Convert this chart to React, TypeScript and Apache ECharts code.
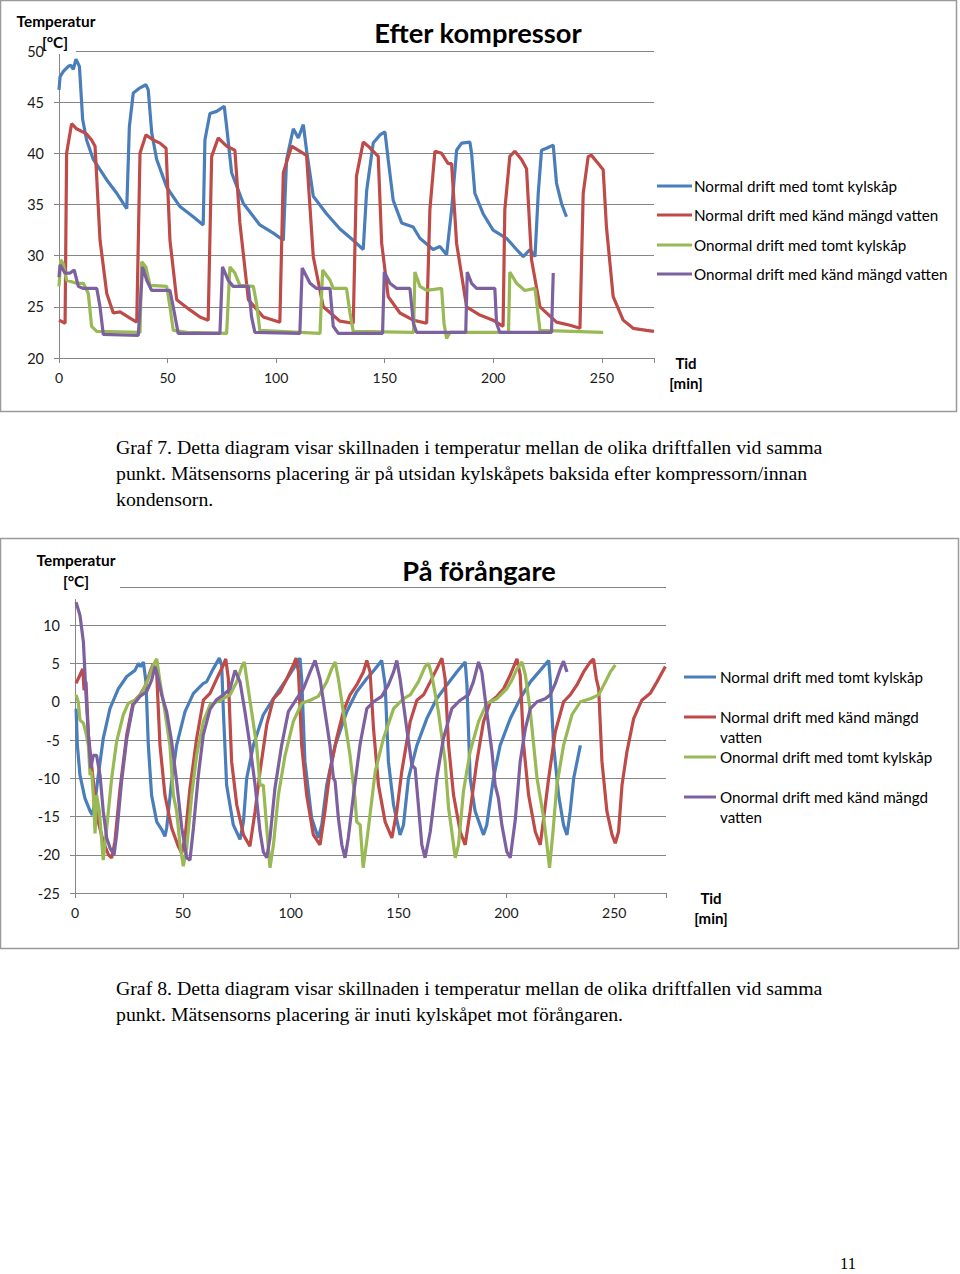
import React, { useEffect, useRef } from 'react';
import * as echarts from 'echarts';

const seriesNames = [
  'Normal drift med tomt kylskåp',
  'Normal drift med känd mängd vatten',
  'Onormal drift med tomt kylskåp',
  'Onormal drift med känd mängd vatten',
];
const legendNamesWrapped = [
  'Normal drift med tomt kylskåp',
  'Normal drift med känd mängd\nvatten',
  'Onormal drift med tomt kylskåp',
  'Onormal drift med känd mängd\nvatten',
];
const seriesColors = ['#4A7EBB', '#BE4B48', '#98B954', '#7D60A0'];

const titleKomp = 'Efter kompressor';
const titleForang = 'På förångare';
const yAxisTitle = ['Temperatur', '[°C]'];
const xAxisTitle = ['Tid', '[min]'];

// Graf 7 – Efter kompressor: [tid (min), temperatur (°C)]
const kompNormalTom = [[0,46.2],[0.5,47.5],[2,48.0],[4.3,48.5],[5.5,48.6],[6.6,48.2],[7.8,49.2],[9.4,48.5],[10.9,43.3],[12.7,41.3],[15.8,39.4],[22,37.4],[26.6,36.1],[29.6,35.1],[31.2,34.6],[32.4,42.6],[34.2,45.9],[37.3,46.4],[40,46.7],[41.1,46.2],[42.7,42.0],[45,39.4],[49.6,36.7],[55.7,34.8],[61.8,33.8],[66.4,33.0],[67.2,41.3],[69.5,43.9],[72.6,44.1],[76.1,44.6],[77.2,42.6],[79.5,38.1],[84.9,35.1],[92.5,33.0],[98.7,32.2],[103.3,31.5],[104.8,39.4],[107.9,42.4],[110.2,41.5],[112.5,42.8],[114,40.3],[117.1,35.8],[123.2,34.1],[129.4,32.6],[135.5,31.5],[140.1,30.6],[141.7,36.4],[144.7,41.0],[147.8,41.8],[150.1,42.1],[151.6,39.4],[153.9,35.4],[157.8,33.2],[163.1,32.8],[166.2,31.7],[172.3,30.6],[175.4,30.9],[178.5,30.1],[180.8,34.5],[183.1,40.3],[185.4,41.0],[189.2,41.1],[190,40.0],[191.5,36.1],[195.3,34.1],[199.9,32.5],[206.1,31.7],[210.7,30.6],[213.8,29.9],[216.9,30.6],[219.2,29.9],[220.7,36.1],[222.2,40.3],[224.5,40.5],[227.6,40.8],[229.1,37.1],[231.4,35.1],[233.7,33.8]];
const kompNormalKand = [[0,23.7],[2.8,23.4],[3.5,40.0],[5.8,42.9],[8.1,42.4],[12.7,41.9],[15,41.3],[16.6,40.7],[18.9,31.5],[22,26.3],[25,24.4],[28.1,24.5],[32.7,23.9],[35.8,23.5],[37.3,40.0],[40,41.8],[43.4,41.3],[46.5,41.0],[49.3,40.5],[51.1,31.5],[54.2,25.7],[60.3,24.7],[64.9,24.0],[68.7,23.7],[70.3,39.7],[73.3,41.5],[77.2,40.7],[81,40.3],[83.3,33.2],[87.2,25.7],[94.1,24.0],[101.7,23.5],[103.3,38.1],[107.1,40.7],[114,39.8],[117.1,29.9],[121.7,25.0],[129.4,23.6],[135.5,23.4],[137,37.8],[140.1,41.1],[142.4,40.7],[147,39.7],[148.6,31.2],[151.6,26.0],[157,24.4],[163.1,23.7],[169.3,23.4],[170.8,34.5],[173.1,40.2],[176.2,40.0],[179.2,39.0],[180.8,39.0],[183.1,31.2],[187.7,25.0],[193.8,24.2],[199.9,23.7],[204.5,23.1],[205.3,34.5],[207.6,39.7],[209.9,40.2],[213,39.4],[215.3,38.5],[217.6,29.6],[221.5,25.0],[229.1,23.5],[235.3,23.2],[239.9,22.9],[241.4,36.1],[243.7,39.7],[245.2,39.8],[248.3,39.0],[250.6,38.4],[252.1,32.8],[255.2,26.0],[259.8,23.7],[264.4,22.9],[270.6,22.7],[274,22.6]];
const kompOnormalTom = [[0,27.0],[0.8,29.6],[2,29.2],[3.5,27.6],[8.1,27.3],[11.2,27.3],[13.5,26.3],[15,23.1],[17.4,22.6],[37.3,22.5],[38.1,29.4],[40,28.9],[41.9,27.1],[49.6,27.0],[51.1,25.0],[52.6,22.7],[58.8,22.5],[77.2,22.4],[78.7,28.9],[81,28.3],[83.3,27.1],[89.5,27.0],[91,25.3],[92.5,22.7],[120.2,22.4],[121.4,28.6],[124.8,27.6],[126.3,26.8],[132.4,26.8],[134,24.4],[135.5,22.6],[163.3,22.5],[163.9,28.4],[166.2,27.0],[169.3,26.6],[176.2,26.8],[177.3,23.4],[178.5,21.9],[180,22.5],[207,22.5],[207.6,28.4],[210.7,27.3],[214.5,26.6],[219.2,26.8],[221.5,22.7],[250.6,22.5]];
const kompOnormalKand = [[0,27.9],[0.5,29.1],[2.8,28.3],[5.1,28.3],[7,28.6],[8.9,27.0],[11.2,26.8],[17.4,26.8],[18.9,25.0],[20.4,22.3],[36.5,22.2],[38.5,28.9],[40.4,27.6],[42.7,26.6],[51.1,26.6],[52.6,25.0],[54.9,22.4],[74.1,22.4],[75.3,28.9],[77.9,27.6],[80.2,27.0],[87.2,27.0],[88.7,24.0],[90.2,22.5],[110.9,22.4],[112,28.8],[115.6,27.3],[118.6,26.8],[124.8,26.8],[126.3,23.1],[128.6,22.4],[149,22.4],[149.8,28.4],[152.4,27.3],[155.5,26.8],[161.6,26.8],[163.2,23.4],[164.7,22.5],[187.3,22.5],[188,28.4],[190,27.3],[192.3,26.8],[200.7,26.8],[201.5,23.4],[203,22.5],[226.8,22.5],[227.6,28.3]];

// Graf 8 – På förångare: [tid (min), temperatur (°C)]
const forNormalTom = [[0.5,-0.9],[1.1,-5.7],[2.3,-9.6],[4.6,-12.6],[7,-14.3],[8,-14.8],[9.3,-13.0],[10.8,-9.6],[13.1,-4.8],[16.2,-0.9],[20.1,1.7],[24,3.3],[27.8,4.1],[29.4,5.0],[30.4,4.6],[31.7,5.2],[32.9,2.6],[34,-5.7],[35.5,-12.2],[37.9,-15.7],[40.2,-16.7],[41.7,-17.6],[42.5,-16.5],[44.8,-10.4],[47.1,-5.7],[51,-1.3],[54.9,1.1],[59.5,2.4],[61,2.6],[64.1,4.3],[66.9,5.7],[68,4.8],[68.8,-1.3],[70.3,-10.9],[73.4,-16.1],[76.5,-18.0],[78.1,-15.7],[79.6,-10.0],[82.7,-5.7],[87.3,-1.7],[92,0.4],[95.1,1.7],[98.2,3.0],[101.2,4.3],[104.3,5.7],[105.1,3.0],[106.6,-7.8],[109.7,-15.2],[112.8,-17.8],[114.4,-16.1],[116.7,-10.9],[120.6,-5.7],[126,-1.3],[130.6,1.3],[135.2,3.0],[138,3.9],[142.2,5.4],[143.8,2.2],[145.3,-7.8],[147.7,-13.5],[150.7,-17.4],[152.3,-16.1],[154.6,-10.0],[158.5,-5.7],[163.1,-2.2],[167.7,0.4],[172.4,2.2],[177,3.9],[180.9,5.2],[181.7,2.2],[183.2,-10.0],[185.5,-14.3],[189.4,-17.4],[190.9,-16.1],[194,-10.0],[197.1,-5.7],[201.8,-2.2],[206.4,0.4],[211.1,2.6],[215.7,4.1],[219.6,5.4],[220.3,3.0],[221.9,-5.7],[224.2,-12.2],[226.5,-16.1],[228.1,-17.4],[229.6,-14.3],[231.2,-10.0],[234.3,-5.7]];
const forNormalKand = [[0.5,2.4],[2.3,3.5],[3.6,4.3],[4.2,1.5],[5.1,2.6],[6.2,-4.3],[8.5,-10.4],[10.8,-15.7],[13.1,-18.3],[15.5,-20.0],[17,-20.4],[18.5,-18.3],[20.9,-11.3],[24,-4.3],[27,0],[30.1,0.9],[32.5,2.0],[34.8,3.9],[36.3,5.0],[37.9,3.5],[39.4,-5.7],[41.7,-12.2],[44.8,-16.5],[47.9,-18.9],[49.5,-19.8],[51,-17.8],[53.3,-11.3],[56.4,-4.8],[59.5,0.2],[62.6,1.1],[65.7,3.0],[68.8,4.8],[69.9,5.6],[71.1,3.0],[72.6,-7.8],[75,-13.5],[78.1,-17.4],[81.1,-18.9],[83.5,-14.3],[85.8,-9.1],[88.9,-3.0],[92,0.4],[95.1,1.3],[98.2,3.0],[101.2,4.8],[102.5,5.7],[103.6,3.9],[105.1,-5.7],[107.4,-12.2],[110.5,-17.4],[113.6,-18.7],[115.9,-14.3],[118.2,-9.1],[121.3,-4.8],[124.4,-1.3],[127.5,0.9],[130.6,2.2],[133.7,3.9],[135.3,5.4],[136.8,3.9],[138.4,-3.5],[140.7,-10.9],[143.8,-15.7],[146.9,-17.8],[149.2,-14.3],[151.5,-9.1],[155.4,-2.6],[158.5,0.2],[161.6,0.9],[164.7,2.6],[167.7,4.3],[170.1,5.7],[171.6,3.0],[173.2,-5.7],[175.5,-12.2],[178.6,-17.0],[180.9,-18.7],[183.2,-14.3],[186.3,-7.8],[189.4,-2.6],[192.5,0],[195.6,0.7],[198.7,1.7],[201.8,3.5],[204.9,5.6],[206.4,3.5],[208,-5.7],[210.3,-12.2],[213.4,-17.0],[215.7,-18.7],[217.3,-15.2],[219.6,-10.0],[222.7,-3.9],[226.5,0],[229.6,0.9],[232.7,2.2],[235.8,3.9],[238.9,5.2],[240.4,5.6],[241.7,3.0],[242.8,1.7],[244.3,-7.8],[246.6,-14.3],[249,-17.4],[250.5,-18.5],[252,-17.0],[253.6,-10.9],[255.9,-6.5],[259,-2.2],[262.8,0.2],[266.7,1.1],[269.8,2.6],[273.7,4.6]];
const forOnormalTom = [[0.5,0.9],[1.5,0],[2.3,-2.4],[3.9,-2.8],[5.1,-4.1],[6.2,-5.7],[7,-9.6],[7.7,-9.1],[8.5,-12.2],[9.3,-17.2],[10,-12.2],[11.3,-14.3],[12.4,-18.3],[13.1,-20.7],[14.7,-16.5],[17,-10.0],[19.3,-5.2],[22.4,-1.7],[24.7,-0.2],[27.8,0.2],[30.9,1.1],[34,3.0],[36.3,4.8],[37.9,5.6],[39.4,2.6],[41.7,-1.3],[44,-5.7],[45.6,-12.2],[47.1,-14.3],[48.7,-18.7],[50.2,-21.5],[51.8,-19.1],[54.1,-12.2],[56.4,-7.0],[59.5,-2.6],[62.6,-0.4],[67.2,0.2],[71.9,0.9],[75,2.6],[77.3,4.6],[78.5,5.2],[79.6,3.0],[81.9,-1.3],[84.2,-5.7],[85.8,-10.9],[87.3,-10.9],[88.9,-16.5],[90.4,-21.7],[92,-18.7],[94.3,-12.2],[97.4,-7.0],[101.2,-2.6],[105.1,-0.2],[109,0.2],[112.8,0.7],[116.7,2.6],[119,4.3],[120.6,5.2],[122.1,3.0],[124.4,-1.3],[127.5,-7.0],[129.8,-12.6],[130.6,-15.7],[132.2,-16.1],[133.6,-21.7],[135.6,-17.5],[139.2,-9.1],[143,-4.8],[147.7,-0.9],[152.3,0.4],[155.4,0.9],[159.2,2.6],[162.3,4.6],[163.9,5.0],[165.4,3.5],[168.5,-1.3],[171.6,-7.8],[173.2,-13.9],[174.7,-17.0],[176.3,-20.4],[177.8,-18.7],[180.1,-11.7],[183.2,-6.5],[187.1,-2.6],[190.9,-0.2],[195.6,0.4],[200.2,1.7],[202.5,2.8],[204.9,4.3],[207.2,5.2],[208.8,3.5],[211.1,-1.3],[214.2,-10.0],[217.3,-15.2],[218.8,-18.7],[220,-21.7],[221.6,-17.0],[223.4,-10.9],[226.5,-5.7],[230.4,-1.7],[234.3,0],[238.9,0.4],[242.8,0.9],[245.9,2.6],[248.2,3.9],[250.5,4.8]];
const forOnormalKand = [[0.5,13.0],[2.3,11.3],[3.9,7.8],[5.1,0.9],[6.2,-4.3],[7.3,-8.7],[8.5,-7.0],[10,-7.0],[11.6,-9.6],[13.1,-14.3],[14.7,-17.8],[16.2,-19.1],[18.1,-20.0],[19.3,-17.4],[21.6,-10.4],[24,-4.8],[27,-0.4],[30.1,0.7],[33.2,1.3],[35.5,2.8],[37.1,4.6],[38.2,3.5],[40.2,0.9],[42.5,-1.3],[44.8,-5.2],[47.1,-10.4],[49.5,-16.5],[51.8,-20.4],[53.3,-20.7],[54.9,-16.5],[57.2,-9.6],[59.5,-4.3],[62.6,-1.0],[65.7,0.3],[68.8,0.9],[71.9,1.7],[74.2,4.1],[76.5,2.6],[78.8,-1.3],[81.1,-5.7],[83.5,-10.9],[85.8,-17.0],[87.3,-19.6],[88.9,-20.4],[90.4,-17.8],[92.7,-11.3],[95.8,-5.7],[98.9,-1.3],[102.8,0.4],[105.9,1.7],[109,3.9],[111.3,5.4],[113.6,3.0],[115.9,-1.3],[118.2,-5.7],[119.8,-10.0],[120.6,-10.4],[122.1,-15.2],[123.7,-18.7],[125.2,-20.4],[126.7,-17.8],[129.1,-12.2],[132.2,-5.5],[135.3,-0.9],[138.4,0],[142.2,0.7],[145.3,2.2],[147.7,3.9],[149.2,5.4],[150.7,3.0],[153.8,-3.5],[156.2,-8.3],[157.7,-8.7],[159.2,-13.5],[160.8,-18.7],[162.3,-20.4],[164.7,-17.0],[167.7,-10.0],[170.8,-4.8],[174.7,-0.9],[178.6,0.2],[182.4,0.9],[184.7,2.6],[187.1,5.2],[188.6,3.9],[190.9,-1.3],[193.3,-6.5],[194.8,-10.9],[196.3,-12.6],[197.9,-16.1],[200.2,-19.6],[201.8,-20.4],[204.1,-15.5],[206.4,-7.8],[208.8,-3.5],[211.1,-0.9],[214.2,0],[218,0.4],[220.3,0.9],[222.7,2.4],[225,4.3],[226.5,5.3],[228.1,3.9]];

const kompSeries = [kompNormalTom, kompNormalKand, kompOnormalTom, kompOnormalKand];
const forSeries = [forNormalTom, forNormalKand, forOnormalTom, forOnormalKand];

const caption7 = [
  'Graf 7. Detta diagram visar skillnaden i temperatur mellan de olika driftfallen vid samma',
  'punkt. Mätsensorns placering är på utsidan kylskåpets baksida efter kompressorn/innan',
  'kondensorn.',
];
const caption8 = [
  'Graf 8. Detta diagram visar skillnaden i temperatur mellan de olika driftfallen vid samma',
  'punkt. Mätsensorns placering är inuti kylskåpet mot förångaren.',
];
const pageNumber = '11';

const SANS = 'Lato, "Open Sans", sans-serif';
const SERIF = '"Liberation Serif", "DejaVu Serif", serif';
const AXIS_GRAY = '#868686';

function xAxisCfg(gridIndex: number) {
  return {
    gridIndex, type: 'value', min: 0, max: 274, interval: 50,
    axisLine: { show: true, onZero: false, lineStyle: { color: AXIS_GRAY, width: 1 } },
    axisTick: { show: true, length: 5, lineStyle: { color: AXIS_GRAY } },
    axisLabel: {
      margin: 12, fontSize: 14, color: '#1a1a1a', fontFamily: SANS,
      formatter: (v: number) => (v % 50 === 0 ? String(v) : ''),
    },
    splitLine: { show: false },
  };
}
function yAxisCfg(gridIndex: number, min: number, max: number, hideMax: boolean) {
  return {
    gridIndex, type: 'value', min, max, interval: 5,
    axisLine: { show: true, onZero: false, lineStyle: { color: AXIS_GRAY, width: 1 } },
    axisTick: { show: true, length: 5, lineStyle: { color: AXIS_GRAY } },
    axisLabel: {
      margin: 15, fontSize: 14.5, color: '#1a1a1a', fontFamily: SANS,
      formatter: (v: number) => (hideMax && v === max ? '' : String(v)),
    },
    splitLine: { show: true, lineStyle: { color: AXIS_GRAY, width: 1 } },
  };
}

function txt(text: string, x: number, y: number, opts: any = {}) {
  return {
    type: 'text', x, y, z: 110,
    style: {
      text, fill: opts.fill || '#000',
      fontSize: opts.fontSize || 14, fontFamily: opts.fontFamily || SANS,
      fontWeight: opts.fontWeight || 'normal',
      align: opts.align || 'left', verticalAlign: 'middle',
    },
  };
}

function legendBlock(x1: number, x2: number, tx: number, ys: number[], names: string[], lineH: number) {
  const els: any[] = [];
  names.forEach((n, i) => {
    els.push({ type: 'line', z: 110, shape: { x1, y1: ys[i], x2, y2: ys[i] }, style: { stroke: seriesColors[i], lineWidth: 3 } });
    n.split('\n').forEach((part, j) => {
      els.push(txt(part, tx, ys[i] + j * lineH, { fontSize: 15.2 }));
    });
  });
  return els;
}

export default function App() {
  const ref = useRef<HTMLDivElement>(null);
  useEffect(() => {
    if (!ref.current) return;
    const chart = echarts.init(ref.current, undefined, { renderer: 'svg' });
    const series: any[] = [];
    kompSeries.forEach((d, i) => series.push({
      name: seriesNames[i], type: 'line', xAxisIndex: 0, yAxisIndex: 0, data: d,
      showSymbol: false, symbol: 'none', lineStyle: { width: 3.2, color: seriesColors[i] },
      itemStyle: { color: seriesColors[i] }, silent: true, z: 2,
    }));
    forSeries.forEach((d, i) => series.push({
      name: seriesNames[i], type: 'line', xAxisIndex: 1, yAxisIndex: 1, data: d,
      showSymbol: false, symbol: 'none', lineStyle: { width: 3.2, color: seriesColors[i] },
      itemStyle: { color: seriesColors[i] }, silent: true, z: 2,
    }));

    const graphic: any[] = [
      { type: 'rect', z: 0, shape: { x: 0.5, y: 0.5, width: 956, height: 411 }, style: { fill: 'none', stroke: '#9a9a9a', lineWidth: 1.5 } },
      { type: 'rect', z: 0, shape: { x: 0.5, y: 538.5, width: 958, height: 410 }, style: { fill: 'none', stroke: '#9a9a9a', lineWidth: 1.5 } },
      // axis-title background boxes
      { type: 'rect', z: 105, shape: { x: 45, y: 28, width: 31, height: 26 }, style: { fill: '#fff' } },
      { type: 'rect', z: 105, shape: { x: 28, y: 545, width: 92, height: 54 }, style: { fill: '#fff' } },
      txt(titleKomp, 478, 32, { fontSize: 27.3, fontWeight: 'bold', align: 'center' }),
      txt(titleForang, 479, 570, { fontSize: 27.2, fontWeight: 'bold', align: 'center' }),
      txt(yAxisTitle[0], 56, 21, { fontSize: 15.4, fontWeight: 'bold', align: 'center' }),
      txt(yAxisTitle[1], 55, 42, { fontSize: 15.4, fontWeight: 'bold', align: 'center' }),
      txt(yAxisTitle[0], 76, 560, { fontSize: 15.4, fontWeight: 'bold', align: 'center' }),
      txt(yAxisTitle[1], 76, 581, { fontSize: 15.4, fontWeight: 'bold', align: 'center' }),
      txt(xAxisTitle[0], 686, 363, { fontSize: 15, fontWeight: 'bold', align: 'center' }),
      txt(xAxisTitle[1], 686, 383, { fontSize: 15, fontWeight: 'bold', align: 'center' }),
      txt(xAxisTitle[0], 711, 898, { fontSize: 15, fontWeight: 'bold', align: 'center' }),
      txt(xAxisTitle[1], 711, 918, { fontSize: 15, fontWeight: 'bold', align: 'center' }),
      ...legendBlock(657, 692, 694, [186, 215, 245, 274], seriesNames, 20),
      ...legendBlock(684, 716, 720, [677, 717, 757, 797], legendNamesWrapped, 20),
      ...caption7.map((l, i) => txt(l, 116, 447 + i * 26, { fontSize: 19.8, fontFamily: SERIF })),
      ...caption8.map((l, i) => txt(l, 116, 988 + i * 26, { fontSize: 19.8, fontFamily: SERIF })),
      txt(pageNumber, 848, 1263, { fontSize: 16.5, fontFamily: SERIF, align: 'center' }),
    ];

    chart.setOption({
      animation: false,
      backgroundColor: '#fff',
      grid: [
        { left: 59, top: 51, width: 595, height: 307 },
        { left: 75, top: 587, width: 591, height: 306 },
      ],
      xAxis: [xAxisCfg(0), xAxisCfg(1)],
      yAxis: [yAxisCfg(0, 20, 50, false), yAxisCfg(1, -25, 15, true)],
      series,
      graphic,
    });
    return () => chart.dispose();
  }, []);
  return <div ref={ref} style={{ position: 'absolute', left: 0, top: 0, width: 960, height: 1274, background: '#fff' }} />;
}
